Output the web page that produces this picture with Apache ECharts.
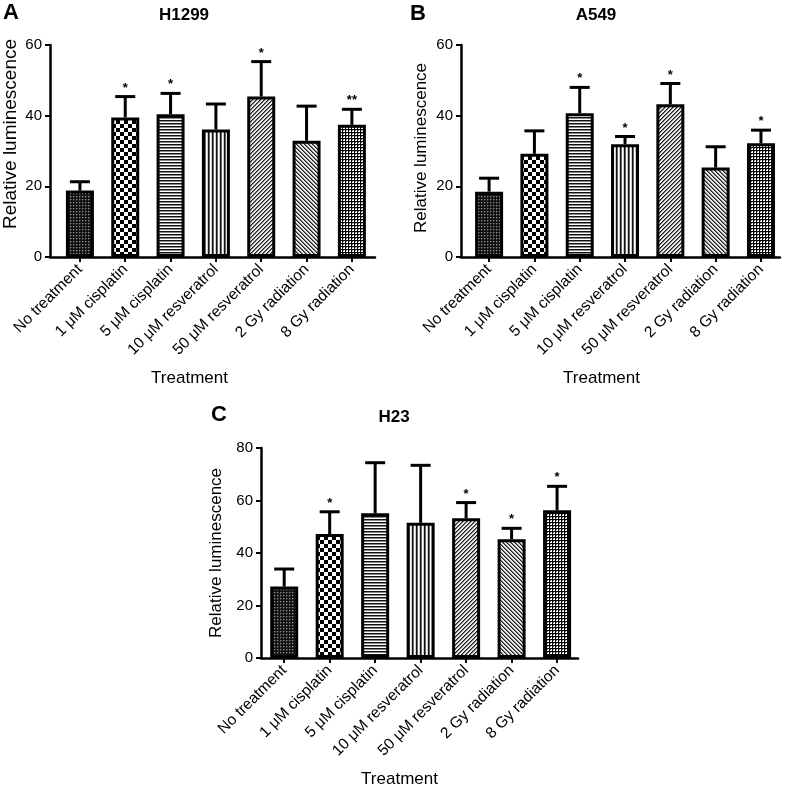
<!DOCTYPE html>
<html>
<head>
<meta charset="utf-8">
<script src="https://cdn.jsdelivr.net/npm/echarts@6/dist/echarts.min.js"></script>
<style>
html,body{margin:0;padding:0;background:#fff;}
#chart{width:786px;height:791px;}
</style>
</head>
<body>
<div id="chart"></div>
<script>
const categories = ['No treatment','1 μM cisplatin','5 μM cisplatin','10 μM resveratrol','50 μM resveratrol','2 Gy radiation','8 Gy radiation'];

const h1299Mean = [18.8, 39.5, 40.4, 36.1, 45.4, 32.9, 37.4];
const h1299Err  = [2.5, 5.9, 5.9, 7.2, 9.9, 9.8, 4.4];
const h1299Sig  = ['', '*', '*', '', '*', '', '**'];

const a549Mean = [18.5, 29.2, 40.7, 31.9, 43.2, 25.3, 32.2];
const a549Err  = [3.8, 6.5, 7.3, 2.2, 5.9, 5.9, 3.7];
const a549Sig  = ['', '', '*', '*', '*', '', '*'];

const h23Mean = [27.2, 47.2, 55.1, 51.5, 53.2, 45.2, 56.3];
const h23Err  = [6.7, 8.5, 19.3, 21.9, 6.0, 4.2, 9.1];
const h23Sig  = ['', '*', '', '', '*', '*', '*'];

const yTicksAB = [0, 20, 40, 60];
const yTicksC = [0, 20, 40, 60, 80];

const FONT = "'Liberation Sans', Arial, Helvetica, sans-serif";

function tile(w, h, draw) {
  const c = document.createElement('canvas');
  c.width = w; c.height = h;
  const ctx = c.getContext('2d');
  draw(ctx, w, h);
  return { image: c, repeat: 'repeat' };
}
function px(ctx, x, y, col) { ctx.fillStyle = col; ctx.fillRect(x, y, 1, 1); }

const patterns = [
  tile(3, 3, (ctx) => { ctx.fillStyle = '#111'; ctx.fillRect(0,0,3,3); ctx.fillStyle = '#8a8a8a'; ctx.fillRect(1,1,1,1); ctx.fillStyle='#444'; ctx.fillRect(2,1,1,1); ctx.fillRect(1,2,1,1); }),
  tile(8, 8, (ctx) => { ctx.fillStyle = '#000'; ctx.fillRect(0,0,8,8); ctx.fillStyle = '#fff'; ctx.fillRect(0,0,4,4); ctx.fillRect(4,4,4,4); }),
  tile(4, 3, (ctx) => { ctx.fillStyle = '#111'; ctx.fillRect(0,0,4,1); ctx.fillStyle = '#888'; ctx.fillRect(0,1,4,1); ctx.fillStyle = '#fff'; ctx.fillRect(0,2,4,1); }),
  tile(4, 4, (ctx) => { ctx.fillStyle = '#111'; ctx.fillRect(0,0,1,4); ctx.fillStyle = '#666'; ctx.fillRect(1,0,1,4); ctx.fillStyle = '#fff'; ctx.fillRect(2,0,1,4); ctx.fillStyle = '#ccc'; ctx.fillRect(3,0,1,4); }),
  tile(4, 4, (ctx) => { for (let x=0;x<4;x++) for (let y=0;y<4;y++) { const k=(x+y)%4; px(ctx,x,y, k===3?'#222':(k===0?'#777':'#e6e6e6')); } }),
  tile(4, 4, (ctx) => { for (let x=0;x<4;x++) for (let y=0;y<4;y++) { const k=((x-y)%4+4)%4; px(ctx,x,y, k===0?'#222':(k===1?'#777':'#e6e6e6')); } }),
  tile(3, 3, (ctx) => { ctx.fillStyle = '#fff'; ctx.fillRect(0,0,3,3); ctx.fillStyle = '#000'; ctx.fillRect(0,0,3,1); ctx.fillRect(0,0,1,3); ctx.fillStyle = '#777'; ctx.fillRect(1,1,1,1); })
];

const panels = [
  { mean: h1299Mean, err: h1299Err, sig: h1299Sig, ticks: yTicksAB, max: 60,
    grid: { left: 50, right: 411, top: 45, bottom: 534 }, xmin: -0.66, xmax: 6.51,
    nameGap: 30, nameSize: 19, namePad: [0, 0, 0, 34], xNamePad: [0, 46, 0, 0] },
  { mean: a549Mean, err: a549Err, sig: a549Sig, ticks: yTicksAB, max: 60,
    grid: { left: 461, right: 6, top: 45, bottom: 534 }, xmin: -0.62, xmax: 6.42,
    nameGap: 31, nameSize: 17, namePad: [0, 0, 0, 6], xNamePad: [0, 38, 0, 0] },
  { mean: h23Mean, err: h23Err, sig: h23Sig, ticks: yTicksC, max: 80,
    grid: { left: 261, right: 208, top: 448, bottom: 133 }, xmin: -0.51, xmax: 6.46,
    nameGap: 36, nameSize: 17, namePad: [0, 0, 0, 0], xNamePad: [0, 40, 0, 0] }
];

const idx = categories.map((c, i) => i);

const option = {
  backgroundColor: '#fff',
  animation: false,
  textStyle: { fontFamily: FONT },
  grid: panels.map(p => Object.assign({ containLabel: false }, p.grid)),
  xAxis: panels.map((p, k) => ({
    type: 'value', gridIndex: k, min: p.xmin, max: p.xmax,
    name: 'Treatment', nameLocation: 'middle', nameGap: 113,
    nameTextStyle: { color: '#000', fontSize: 17, fontFamily: FONT, padding: p.xNamePad },
    axisLine: { show: true, onZero: false, lineStyle: { color: '#000', width: 2.5 } },
    axisTick: { show: true, length: 5, lineStyle: { color: '#000', width: 2 }, customValues: idx },
    axisLabel: { show: true, rotate: 45, margin: 10, color: '#000', fontSize: 15.5, fontFamily: FONT,
      customValues: idx, formatter: v => categories[Math.round(v)] },
    splitLine: { show: false }
  })),
  yAxis: panels.map((p, k) => ({
    type: 'value', gridIndex: k, min: 0, max: p.max, interval: 20,
    name: 'Relative luminescence', nameLocation: 'middle', nameRotate: 90, nameGap: p.nameGap,
    nameTextStyle: { color: '#000', fontSize: p.nameSize, fontFamily: FONT, padding: p.namePad },
    axisLine: { show: true, onZero: false, lineStyle: { color: '#000', width: 2.5 } },
    axisTick: { show: true, length: 5, lineStyle: { color: '#000', width: 2 } },
    axisLabel: { color: '#000', fontSize: 15, margin: 8, fontFamily: FONT },
    splitLine: { show: false }
  })),
  graphic: [
    { type: 'text', x: 3, y: 2, style: { text: 'A', font: 'bold 22px ' + FONT, fill: '#000' } },
    { type: 'text', x: 184, y: 15, style: { text: 'H1299', font: 'bold 17px ' + FONT, fill: '#000', textAlign: 'center', textVerticalAlign: 'middle' } },
    { type: 'text', x: 410, y: 3, style: { text: 'B', font: 'bold 22px ' + FONT, fill: '#000' } },
    { type: 'text', x: 596, y: 15, style: { text: 'A549', font: 'bold 17px ' + FONT, fill: '#000', textAlign: 'center', textVerticalAlign: 'middle' } },
    { type: 'text', x: 211, y: 404, style: { text: 'C', font: 'bold 22px ' + FONT, fill: '#000' } },
    { type: 'text', x: 394, y: 417, style: { text: 'H23', font: 'bold 17px ' + FONT, fill: '#000', textAlign: 'center', textVerticalAlign: 'middle' } }
  ],
  series: []
};

panels.forEach((p, k) => {
  option.series.push({
    type: 'bar', xAxisIndex: k, yAxisIndex: k, barWidth: 28,
    data: p.mean.map((v, i) => ({ value: [i, v], itemStyle: { color: patterns[i], borderColor: '#000', borderWidth: 3 } })),
    z: 2
  });
  option.series.push({
    type: 'custom', xAxisIndex: k, yAxisIndex: k, z: 3,
    data: p.mean.map((v, i) => [i, v, v + p.err[i]]),
    renderItem: (params, api) => {
      const i = api.value(0);
      const base = api.coord([i, api.value(1)]);
      const top = api.coord([i, api.value(2)]);
      const half = 10;
      const children = [
        { type: 'line', shape: { x1: base[0], y1: base[1], x2: top[0], y2: top[1] }, style: { stroke: '#000', lineWidth: 3 } },
        { type: 'line', shape: { x1: top[0] - half, y1: top[1], x2: top[0] + half, y2: top[1] }, style: { stroke: '#000', lineWidth: 3 } }
      ];
      const s = p.sig[params.dataIndex];
      if (s) {
        children.push({ type: 'text', x: top[0], y: top[1] - 2,
          style: { text: s, font: 'bold 13px ' + FONT, fill: '#000', textAlign: 'center', textVerticalAlign: 'bottom' } });
      }
      return { type: 'group', children };
    }
  });
});

const chart = echarts.init(document.getElementById('chart'), null, { renderer: 'canvas' });
chart.setOption(option);
</script>
</body>
</html>
